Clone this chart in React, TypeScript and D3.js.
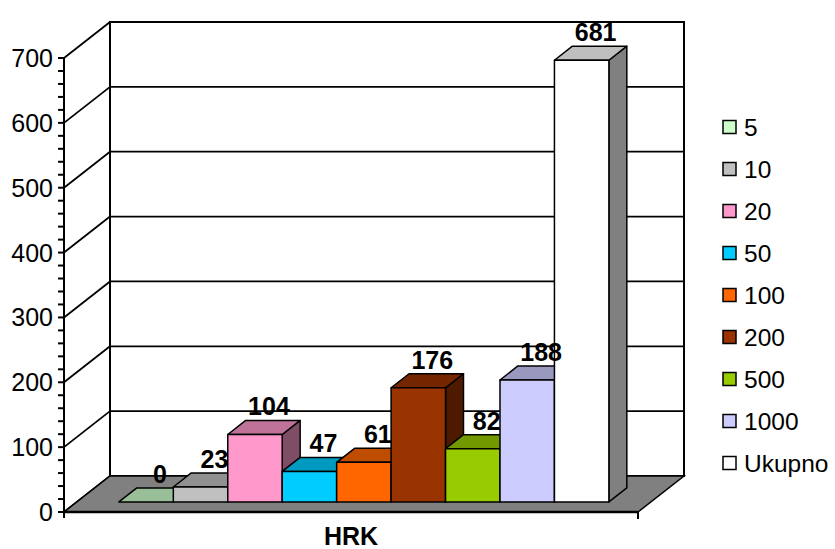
import React from "react";
import { scaleLinear, scaleBand, range, rgb } from "d3";

const category = "HRK";
const seriesNames = ["5", "10", "20", "50", "100", "200", "500", "1000", "Ukupno"];
const seriesValues = [0, 23, 104, 47, 61, 176, 82, 188, 681];
const seriesColors = ["#CCFFCC", "#C0C0C0", "#FF99CC", "#00CCFF", "#FF6600", "#993300", "#99CC00", "#CCCCFF", "#FFFFFF"];
const yMajorTicks = [0, 100, 200, 300, 400, 500, 600, 700];

const W = 835;
const H = 549;
// plot geometry (front plane of the floor) + depth offset of the 3D box
const plot = { left: 64, right: 638, bottom: 512, top: 58 };
const depth = { dx: 46, dy: -36 };
const barPlane = 0.28; // bars stand this far into the box
const barDepth = 0.39; // and are this deep

const shade = (c: string, k: number) => {
  const col = rgb(c);
  return rgb(col.r * k, col.g * k, col.b * k).formatHex();
};

const pts = (p: [number, number][]) => p.map((d) => d.join(",")).join(" ");

const App: React.FC = () => {
  const yScale = scaleLinear().domain([0, 700]).range([plot.bottom, plot.top]);
  const xCat = scaleBand<string>()
    .domain([category])
    .range([plot.left, plot.right])
    .paddingInner(0)
    .paddingOuter(0.0857);
  const xSeries = scaleBand<string>()
    .domain(seriesNames)
    .range([xCat(category)!, xCat(category)! + xCat.bandwidth()]);

  const bx = depth.dx * barPlane;
  const by = depth.dy * barPlane;
  const ddx = depth.dx * barDepth;
  const ddy = depth.dy * barDepth;

  const minorTicks = range(0, 701, 20);
  const font = "'Liberation Sans', Arial, sans-serif";

  return (
    <svg
      width={W}
      height={H}
      style={{ position: "absolute", left: 0, top: 0, background: "#fff" }}
      fontFamily={font}
    >
      {/* left side wall + back wall */}
      <polygon
        points={pts([
          [plot.left, plot.bottom],
          [plot.left, plot.top],
          [plot.left + depth.dx, plot.top + depth.dy],
          [plot.left + depth.dx, plot.bottom + depth.dy],
        ])}
        fill="#fff"
      />
      <rect
        x={plot.left + depth.dx}
        y={plot.top + depth.dy}
        width={plot.right - plot.left}
        height={plot.bottom - plot.top}
        fill="#fff"
        stroke="#000"
        strokeWidth={2}
      />
      {/* gridlines */}
      {yMajorTicks.map((t) => (
        <g key={t} stroke="#000" strokeWidth={1.8}>
          <line x1={plot.left} y1={yScale(t)} x2={plot.left + depth.dx} y2={yScale(t) + depth.dy} />
          <line
            x1={plot.left + depth.dx}
            y1={yScale(t) + depth.dy}
            x2={plot.right + depth.dx}
            y2={yScale(t) + depth.dy}
          />
        </g>
      ))}
      {/* floor */}
      <polygon
        points={pts([
          [plot.left, plot.bottom],
          [plot.right, plot.bottom],
          [plot.right + depth.dx, plot.bottom + depth.dy],
          [plot.left + depth.dx, plot.bottom + depth.dy],
        ])}
        fill="#808080"
        stroke="#000"
        strokeWidth={1.5}
      />
      {/* y axis */}
      <line x1={plot.left} y1={plot.top} x2={plot.left} y2={plot.bottom + 6} stroke="#000" strokeWidth={2} />
      {minorTicks.map((t) => (
        <line key={t} x1={plot.left - 6} y1={yScale(t)} x2={plot.left} y2={yScale(t)} stroke="#000" strokeWidth={2} />
      ))}
      {yMajorTicks.map((t) => (
        <text key={t} x={plot.left - 11} y={yScale(t)} dy="0.36em" textAnchor="end" fontSize={25}>
          {t}
        </text>
      ))}
      {/* x axis */}
      <line x1={plot.left} y1={plot.bottom} x2={plot.right} y2={plot.bottom} stroke="#000" strokeWidth={2.5} />
      <line x1={plot.right} y1={plot.bottom} x2={plot.right} y2={plot.bottom + 7} stroke="#000" strokeWidth={2} />
      <text
        x={xCat(category)! + xCat.bandwidth() / 2}
        y={545}
        textAnchor="middle"
        fontSize={25}
        fontWeight="bold"
      >
        {category}
      </text>
      {/* bars */}
      {seriesNames.map((s, i) => {
        const x0 = xSeries(s)! + bx;
        const x1 = x0 + xSeries.bandwidth();
        const yb = yScale(0) + by;
        const yt = yScale(seriesValues[i]) + by;
        const c = seriesColors[i];
        return (
          <g key={s} stroke="#000" strokeWidth={1.5} strokeLinejoin="round">
            <polygon
              points={pts([
                [x1, yb],
                [x1, yt],
                [x1 + ddx, yt + ddy],
                [x1 + ddx, yb + ddy],
              ])}
              fill={shade(c, 0.5)}
            />
            <polygon
              points={pts([
                [x0, yt],
                [x1, yt],
                [x1 + ddx, yt + ddy],
                [x0 + ddx, yt + ddy],
              ])}
              fill={shade(c, 0.75)}
            />
            {seriesValues[i] > 0 && <rect x={x0} y={yt} width={x1 - x0} height={yb - yt} fill={c} />}
          </g>
        );
      })}
      {/* data labels */}
      {seriesNames.map((s, i) => {
        const xc = xSeries(s)! + bx + xSeries.bandwidth() / 2 + ddx / 2 + 5;
        const yt = yScale(seriesValues[i]) + by + ddy;
        return (
          <text key={s} x={xc} y={yt - 5} textAnchor="middle" fontSize={25} fontWeight="bold">
            {seriesValues[i]}
          </text>
        );
      })}
      {/* legend */}
      {seriesNames.map((s, i) => {
        const y = 127 + i * 42;
        return (
          <g key={s}>
            <rect x={723} y={y - 6.5} width={13} height={13} fill={seriesColors[i]} stroke="#000" strokeWidth={1.5} />
            <text x={744} y={y} dy="0.36em" fontSize={24.5}>
              {s}
            </text>
          </g>
        );
      })}
    </svg>
  );
};

export default App;
